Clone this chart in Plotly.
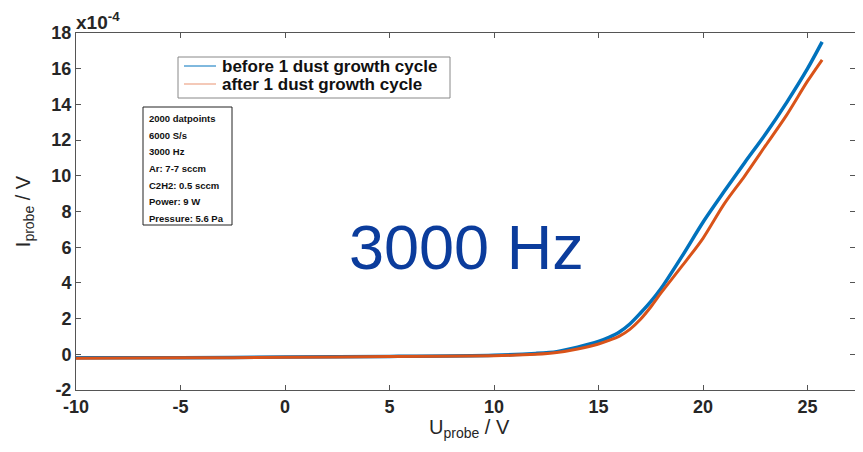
import plotly.graph_objects as go

# ---- data ----
u_probe = [-10, -5, 0, 5, 10, 12, 13, 14, 15, 15.5, 16, 16.5, 17, 17.5, 18, 19, 20, 21, 22, 23, 24, 25, 25.7]
i_before = [-0.2, -0.2, -0.15, -0.12, -0.05, 0.05, 0.15, 0.4, 0.72, 0.95, 1.25, 1.7, 2.3, 2.95, 3.7, 5.5, 7.4, 9.1, 10.75, 12.35, 14.1, 16.0, 17.5]
i_after = [-0.22, -0.2, -0.17, -0.12, -0.08, 0.0, 0.1, 0.3, 0.58, 0.78, 1.02, 1.4, 1.95, 2.65, 3.45, 4.95, 6.5, 8.4, 10.0, 11.7, 13.4, 15.3, 16.5]
series_names = ["before 1 dust growth cycle", "after 1 dust growth cycle"]
info_lines = ["2000 datpoints", "6000 S/s", "3000 Hz", "Ar: 7-7 sccm",
              "C2H2: 0.5 sccm", "Power: 9 W", "Pressure: 5.6 Pa"]
x_ticks = [-10, -5, 0, 5, 10, 15, 20, 25]
y_ticks = [-2, 0, 2, 4, 6, 8, 10, 12, 14, 16, 18]

BLUE = "#0072BD"
ORANGE = "#D95319"
FONT = "Liberation Sans"
TXT = "#262626"

# page has an 8px body margin: work in screen pixels and convert
OFF = 8
W, H = 863 - 2 * OFF, 452 - 2 * OFF
L, R, T, B = 76 - OFF, W, 33 - OFF, 390 - OFF
def px(x): return (x - OFF - L) / (R - L)
def py(y): return (B - (y - OFF)) / (B - T)

fig = go.Figure()
fig.add_trace(go.Scatter(x=u_probe, y=i_before, mode="lines", name=series_names[0],
                         line=dict(color=BLUE, width=3.5, shape="spline", smoothing=0.8),
                         showlegend=False))
fig.add_trace(go.Scatter(x=u_probe, y=i_after, mode="lines", name=series_names[1],
                         line=dict(color=ORANGE, width=3, shape="spline", smoothing=0.8),
                         showlegend=False))

axis_common = dict(showgrid=False, zeroline=False, showline=True, linecolor="#555555", linewidth=1,
                   mirror="ticks", ticks="inside", ticklen=5, tickcolor="#555555", automargin=False,
                   tickfont=dict(family=FONT, size=18, color=TXT, weight="bold"))
fig.update_xaxes(range=[-10, (R - L) / 20.9 - 10], tickvals=x_ticks, ticktext=[str(v) for v in x_ticks],
                 **axis_common)
fig.update_yaxes(range=[-2, 18], tickvals=y_ticks, ticktext=[str(v) for v in y_ticks], **axis_common,
                 title=dict(text="I<sub>probe</sub> / V", font=dict(family=FONT, size=20, color=TXT), standoff=15))

fig.update_layout(
    width=W, height=H, margin=dict(l=L, r=W - R, t=T, b=H - B, autoexpand=False),
    plot_bgcolor="white", paper_bgcolor="white", showlegend=False,
)

# x-axis title (placed as low as the figure allows)
fig.add_annotation(x=px(470), y=0, xref="paper", yref="paper", xanchor="center", yanchor="bottom",
                   yshift=-(H - B) + 1, text="U<sub>probe</sub> / V", showarrow=False,
                   font=dict(family=FONT, size=20, color=TXT))

# legend box (drawn by hand to match the compact MATLAB legend)
fig.add_shape(type="rect", xref="paper", yref="paper", x0=px(178), x1=px(450), y0=py(98), y1=py(57),
              line=dict(color="#888888", width=1), fillcolor="white")
legend_colors = [BLUE, "#F4C9B8"]
legend_widths = [1, 2]
for k, name in enumerate(series_names):
    yy = py(66 + 18 * k)
    fig.add_shape(type="line", xref="paper", yref="paper", x0=px(184), x1=px(216), y0=yy, y1=yy,
                  line=dict(color=legend_colors[k], width=legend_widths[k]))
    fig.add_annotation(x=px(220), y=yy, xref="paper", yref="paper", xanchor="left", yanchor="middle",
                       text=name, showarrow=False, height=17,
                       font=dict(family=FONT, size=17, color="#111111", weight="bold"))

# x10^-4 exponent label
fig.add_annotation(x=0, y=1, xref="paper", yref="paper", xanchor="left", yanchor="bottom",
                   text="x10<sup>-4</sup>", showarrow=False, xshift=-2, yshift=-2,
                   font=dict(family=FONT, size=19, color=TXT, weight="bold"))

# info box
fig.add_shape(type="rect", xref="paper", yref="paper", x0=px(143), x1=px(232), y0=py(225), y1=py(107),
              line=dict(color="#222222", width=1), fillcolor="white")
for k, line in enumerate(info_lines):
    fig.add_annotation(x=px(147), y=py(118.7 + 16.6 * k), xref="paper", yref="paper",
                       xanchor="left", yanchor="middle", text=line, showarrow=False,
                       font=dict(family=FONT, size=9.5, color="#111111", weight="bold"))

# large frequency label
fig.add_annotation(x=px(466), y=py(247), xref="paper", yref="paper", xanchor="center", yanchor="middle",
                   text="3000 Hz", showarrow=False,
                   font=dict(family=FONT, size=63, color="#0B3C9C"))

fig.write_html("out.html")
